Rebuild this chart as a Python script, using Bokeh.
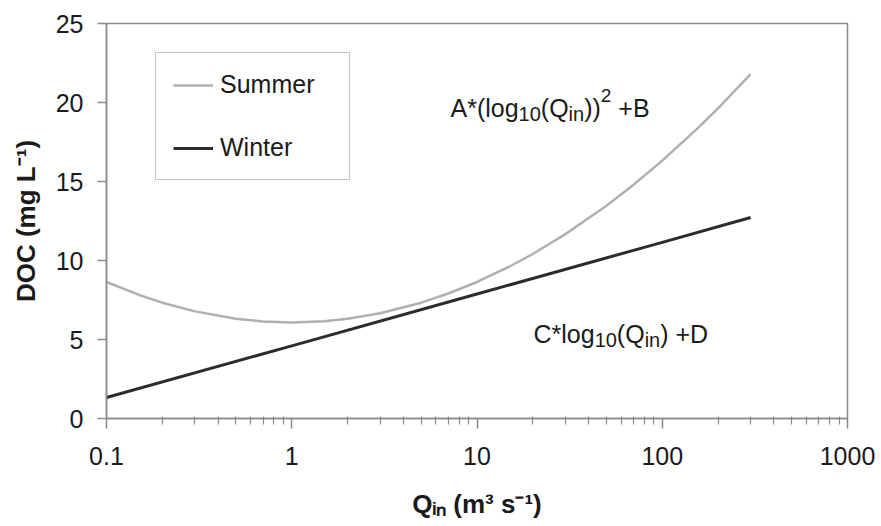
import math
from bokeh.plotting import figure
from bokeh.models import (FixedTicker, CustomJSTickFormatter, Label, Legend,
                          LegendItem, Range1d)
from bokeh.embed import file_html
from bokeh.resources import INLINE

# ---------------- data ----------------
summer_q = [0.1, 0.15, 0.2, 0.3, 0.5, 0.7, 1, 1.5, 2, 3, 5, 7, 10, 15, 20,
            30, 50, 70, 100, 150, 200, 300]
summer_doc = [8.64, 7.82, 7.33, 6.78, 6.31, 6.14, 6.08, 6.16, 6.31, 6.66,
              7.33, 7.91, 8.64, 9.62, 10.41, 11.67, 13.47, 14.79, 16.32,
              18.2, 19.63, 21.79]
winter_q = [0.1, 1, 10, 100, 300]
winter_doc = [1.33, 4.6, 7.88, 11.15, 12.72]

x_major = [0.1, 1, 10, 100, 1000]
x_minor = [m * d for d in (0.1, 1, 10, 100) for m in range(2, 10)]
y_major = [0, 5, 10, 15, 20, 25]

series_names = ["Summer", "Winter"]
x_title = "Q\u1d62\u2099 (m\u00b3 s\u207b\u00b9)"
y_title = "DOC (mg L\u207b\u00b9)"

FONT = "Liberation Sans"
TXT = "#1a1a1a"
AX = "#8a8a8a"

p = figure(width=881, height=526, x_axis_type="log",
           x_range=Range1d(0.1, 1000), y_range=Range1d(0, 25),
           output_backend="svg", toolbar_location=None,
           min_border_left=106, min_border_right=34,
           min_border_top=23, min_border_bottom=108)
p.xgrid.visible = False
p.ygrid.visible = False
p.outline_line_color = AX
p.outline_line_width = 1.5
p.background_fill_color = "white"
p.border_fill_color = "white"

# x axis
xa = p.xaxis[0]
xa.ticker = FixedTicker(ticks=x_major, minor_ticks=x_minor)
xa.formatter = CustomJSTickFormatter(code="return tick < 1 ? tick.toFixed(1) : tick.toFixed(0);")
xa.axis_line_color = AX
xa.axis_line_width = 1.5
xa.major_tick_line_color = AX
xa.major_tick_line_width = 1.5
xa.major_tick_out = 10
xa.major_tick_in = 0
xa.minor_tick_line_color = AX
xa.minor_tick_line_width = 1.2
xa.minor_tick_out = 6
xa.minor_tick_in = 2
xa.major_label_text_font = FONT
xa.major_label_text_font_size = "25px"
xa.major_label_text_color = TXT
xa.major_label_standoff = 18
xa.axis_label = x_title
xa.axis_label_text_font = FONT
xa.axis_label_text_font_size = "26px"
xa.axis_label_text_font_style = "bold"
xa.axis_label_text_color = TXT
xa.axis_label_standoff = 21

# y axis
ya = p.yaxis[0]
ya.ticker = FixedTicker(ticks=y_major)
ya.axis_line_color = AX
ya.axis_line_width = 1.5
ya.major_tick_line_color = AX
ya.major_tick_line_width = 1.5
ya.major_tick_out = 9
ya.major_tick_in = 0
ya.minor_tick_line_color = None
ya.major_label_text_font = FONT
ya.major_label_text_font_size = "25px"
ya.major_label_text_color = TXT
ya.major_label_standoff = 14
ya.axis_label = y_title
ya.axis_label_text_font = FONT
ya.axis_label_text_font_size = "26px"
ya.axis_label_text_font_style = "bold"
ya.axis_label_text_color = TXT
ya.axis_label_standoff = 12

# lines
r_summer = p.line(summer_q, summer_doc, line_color="#b0b0b0", line_width=2.5)
r_winter = p.line(winter_q, winter_doc, line_color="#2b2b2b", line_width=3)

legend = Legend(items=[LegendItem(label=series_names[0], renderers=[r_summer]),
                       LegendItem(label=series_names[1], renderers=[r_winter])],
                location=(49, 238), orientation="vertical",
                border_line_color=AX, border_line_width=1.5,
                background_fill_color="white", background_fill_alpha=1,
                padding=17, spacing=34, margin=0,
                glyph_width=40, glyph_height=20, label_standoff=7,
                label_width=112, label_text_font=FONT,
                label_text_font_size="25px", label_text_color=TXT)
p.add_layout(legend)

# ---------------- composite text (sub/superscripts) ----------------
W_REG = {"A": 667, "*": 389, "(": 333, ")": 333, "l": 222, "o": 556, "g": 556,
         "1": 556, "0": 556, "2": 556, "3": 556, "Q": 778, "i": 222, "n": 556,
         " ": 278, "+": 584, "B": 667, "C": 722, "D": 722, "-": 333}


def text_width(t, size):
    return sum(W_REG.get(c, 556) for c in t) * size / 1000.0


def place(pieces, x0, y0):
    adv = 0.0
    for t, size, dy in pieces:
        stripped = t.lstrip(" ")
        adv += text_width(t[:len(t) - len(stripped)], size)
        p.add_layout(Label(x=x0 + adv, y=y0 + dy, x_units="screen",
                           y_units="screen", text=stripped, text_font=FONT,
                           text_font_size=f"{size}px", text_color=TXT,
                           text_baseline="alphabetic", text_align="left"))
        adv += text_width(stripped, size)


# Summer formula
place([("A*(log", 25, 0), ("10", 20, -6), ("(Q", 25, 0), ("in", 20, -6),
       ("))", 25, 0), ("2", 19, 12), (" +B", 25, 0)], 344, 311)
# Winter formula
place([("C*log", 25, 0), ("10", 20, -6), ("(Q", 25, 0), ("in", 20, -6),
       (")", 25, 0), (" +D", 25, 0)], 427, 85)

open("out.html", "w").write(file_html(p, INLINE))
